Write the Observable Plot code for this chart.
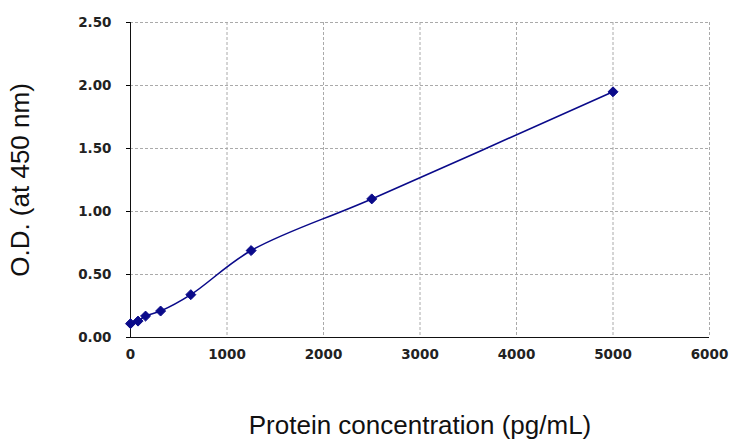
<!DOCTYPE html>
<html>
<head>
<meta charset="utf-8">
<script src="https://cdn.jsdelivr.net/npm/d3@7"></script>
<script src="https://cdn.jsdelivr.net/npm/@observablehq/plot@0.6"></script>
<style>
  html, body { margin: 0; padding: 0; background: #fff; }
  #chart svg { display: block; }
</style>
</head>
<body>
<div id="chart"></div>
<script>
const concentration = [0, 78, 156, 312, 625, 1250, 2500, 5000];
const od = [0.11, 0.13, 0.17, 0.21, 0.34, 0.69, 1.10, 1.95];
const xTicks = [0, 1000, 2000, 3000, 4000, 5000, 6000];
const yTicks = [0, 0.5, 1.0, 1.5, 2.0, 2.5];

const data = concentration.map((c, i) => ({c, od: od[i]}));
const navy = "#0a0a8a";
const tickFont = "'DejaVu Sans', Verdana, sans-serif";

const chart = Plot.plot({
  width: 730,
  height: 439,
  marginLeft: 130,
  marginRight: 21,
  marginTop: 22,
  marginBottom: 102,
  style: {fontFamily: "'Liberation Sans', Arial, sans-serif", background: "#fff"},
  x: {domain: [0, 6000], ticks: xTicks, label: null},
  y: {domain: [0, 2.5], ticks: yTicks, label: null},
  marks: [
    Plot.gridX(xTicks, {stroke: "#aaa", strokeOpacity: 1, strokeDasharray: "3,2"}),
    Plot.gridY(yTicks, {stroke: "#aaa", strokeOpacity: 1, strokeDasharray: "3,2"}),
    Plot.axisX(xTicks, {tickSize: 0, tickPadding: 12, fontSize: 13.5, fontWeight: "bold", fill: "#222",
      fontFamily: tickFont, tickFormat: d3.format("d"),
      label: "Protein concentration (pg/mL)", labelAnchor: "center", labelOffset: 96, labelArrow: "none"}),
    Plot.axisY(yTicks, {tickSize: 4, tickPadding: 15, fontSize: 13.5, fontWeight: "bold", fill: "#222",
      fontFamily: tickFont, tickFormat: d => d.toFixed(2),
      label: "O.D. (at 450 nm)", labelAnchor: "center", labelOffset: 120, labelArrow: "none"}),
    Plot.ruleX([0], {stroke: "#111"}),
    Plot.ruleY([0], {stroke: "#111"}),
    Plot.line(data, {x: "c", y: "od", curve: "catmull-rom", stroke: navy, strokeWidth: 1.6}),
    Plot.dot(data, {x: "c", y: "od", symbol: "diamond2", r: 4.5, fill: navy, stroke: navy, strokeWidth: 1})
  ]
});

chart.querySelectorAll("[aria-label='x-axis label'] text, [aria-label='y-axis label'] text").forEach(t => {
  t.setAttribute("font-size", "26");
  t.setAttribute("font-weight", "normal");
  t.setAttribute("font-family", "'Liberation Sans', Arial, sans-serif");
  t.setAttribute("fill", "#111");
});
document.getElementById("chart").appendChild(chart);
</script>
</body>
</html>
